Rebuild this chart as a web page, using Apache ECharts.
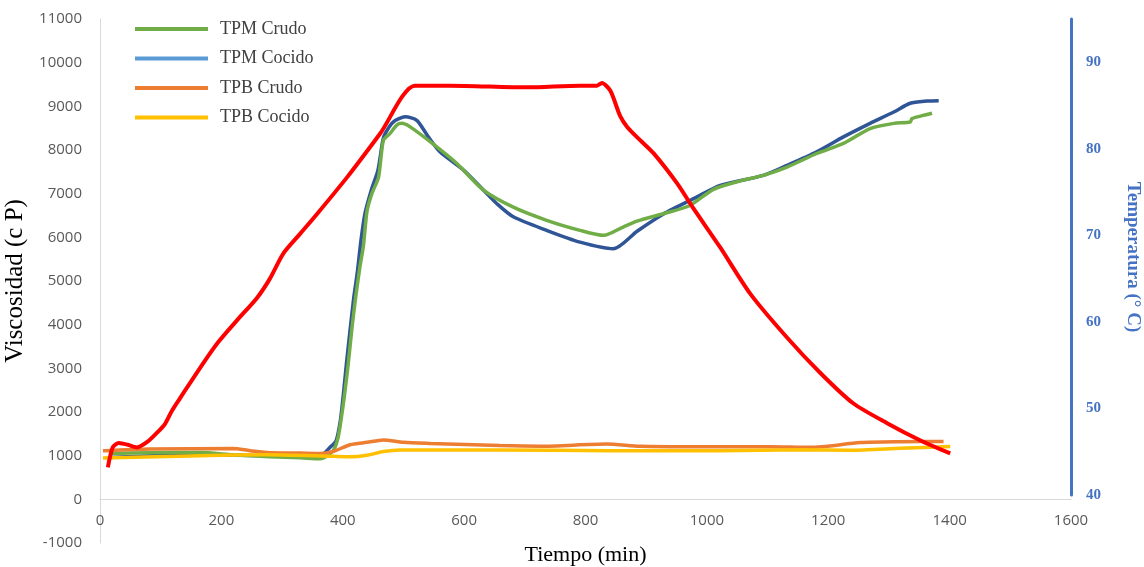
<!DOCTYPE html>
<html>
<head>
<meta charset="utf-8">
<script src="https://cdn.jsdelivr.net/npm/echarts@6/dist/echarts.min.js"></script>
<style>
  html, body { margin: 0; padding: 0; background: #fff; }
  #chart { width: 1144px; height: 567px; }
</style>
</head>
<body>
<div id="chart"></div>
<script>
// Viscosity (cP) against time (min)
const tpmCrudo = [
  [16,1050],[82,1065],[165,1075],[219,1020],[280,975],[330,950],[363,930],[384,1110],
  [392,1400],[397,1800],[403,2400],[409,3100],[415,3900],[421,4600],[428,5300],[434,5800],
  [440,6600],[448,7000],[459,7380],[467,8220],[478,8380],[489,8570],[497,8610],[511,8530],
  [544,8190],[588,7690],[632,7080],[681,6690],[736,6390],[791,6160],[830,6045],[862,6235],
  [885,6370],[928,6540],[972,6730],[1011,7100],[1060,7310],[1093,7420],[1132,7610],[1181,7920],
  [1225,8150],[1269,8490],[1308,8610],[1335,8640],[1338,8720],[1352,8775],[1371,8840]
];
const tpmCocido = [
  [16,960],[165,1020],[280,1000],[363,1000],[379,1190],[389,1340],[396,1800],[401,2400],
  [406,3100],[412,3870],[418,4600],[424,5200],[430,5930],[437,6570],[447,7080],[458,7540],
  [466,8220],[470,8380],[483,8640],[503,8760],[522,8680],[541,8300],[560,7960],[599,7540],
  [632,7080],[654,6770],[681,6470],[736,6160],[791,5890],[846,5740],[885,6140],[928,6530],
  [983,6920],[1022,7190],[1093,7420],[1132,7650],[1181,7960],[1225,8300],[1269,8610],
  [1308,8870],[1335,9070],[1363,9120],[1382,9130]
];
const tpbCrudo = [
  [5,1110],[82,1150],[219,1165],[247,1115],[275,1075],[330,1060],[363,1050],[384,1095],
  [412,1250],[440,1305],[467,1360],[500,1305],[544,1280],[659,1230],[725,1215],[835,1265],
  [890,1215],[989,1205],[1104,1205],[1170,1190],[1253,1300],[1319,1320],[1390,1325]
];
const tpbCocido = [
  [5,945],[165,1000],[275,1020],[384,985],[412,975],[440,1010],[467,1095],[494,1130],
  [659,1130],[841,1115],[1022,1115],[1154,1135],[1236,1125],[1319,1170],[1401,1210]
];
// Temperature (°C) against time (min), right-hand axis
const temperatura = [
  [13,43.2],[21,45.5],[31,46.0],[46,45.8],[61,45.5],[79,46.2],[94,47.2],[107,48.2],
  [119,49.8],[132,51.2],[148,52.9],[165,54.7],[193,57.5],[226,60.2],[259,62.8],[280,65.0],
  [302,67.9],[330,70.2],[358,72.5],[407,76.7],[462,81.8],[519,87.3],[577,87.3],[704,87.1],
  [791,87.3],[819,87.3],[827,87.6],[841,86.7],[857,83.8],[869,82.5],[890,81.0],[912,79.5],
  [951,76.0],[977,73.2],[1022,68.6],[1071,63.3],[1132,58.2],[1187,54.1],[1241,50.6],
  [1297,48.3],[1352,46.3],[1401,44.8]
];

const legendNames = ['TPM Crudo', 'TPM Cocido', 'TPB Crudo', 'TPB Cocido'];
const legendColors = ['#70AD47', '#5B9BD5', '#ED7D31', '#FFC000'];

const serif = 'Liberation Serif';
const plainNumber = v => String(v);
const tickFont = { fontFamily: 'Open Sans', fontSize: 15, color: '#595959', formatter: plainNumber };

// viscosity grid spans -1000 .. 11000; the time axis sits on the zero line
const gridTop = 19;
const gridBottom = 24;
const viscMin = -1000;
const viscMax = 11000;

const chart = echarts.init(document.getElementById('chart'), null, { renderer: 'canvas' });
const plotHeight = chart.getHeight() - gridTop - gridBottom;
// lift the time axis from the grid bottom up to viscosity = 0
const zeroLift = plotHeight * (0 - viscMin) / (viscMax - viscMin);

function lineSeries(name, data, color, width, legendColor) {
  return {
    name: name,
    type: 'line',
    data: data,
    xAxisIndex: 0,
    yAxisIndex: 0,
    smooth: 0.25,
    showSymbol: false,
    symbol: 'none',
    itemStyle: { color: legendColor || color },
    lineStyle: { color: color, width: width },
    emphasis: { disabled: true }
  };
}

chart.setOption({
  animation: false,
  backgroundColor: '#ffffff',
  grid: [
    { left: 100, right: 73, top: gridTop, bottom: gridBottom, containLabel: false, outerBoundsMode: 'none' },
    // temperature plot: 40 .. 95, bottom aligned with viscosity zero
    { left: 100, right: 73, top: gridTop, bottom: 72, containLabel: false, outerBoundsMode: 'none' }
  ],
  legend: {
    orient: 'vertical',
    left: 130,
    top: 14,
    icon: 'rect',
    itemWidth: 73,
    itemHeight: 4,
    itemGap: 9.5,
    data: legendNames.map((n, i) => ({ name: n, itemStyle: { color: legendColors[i] } })),
    textStyle: { fontFamily: serif, fontSize: 18, color: '#404040', lineHeight: 20, padding: [0, 0, 0, 7] },
    selectedMode: false
  },
  xAxis: [
    {
      type: 'value', gridIndex: 0, min: 0, max: 1600, interval: 200,
      position: 'bottom', offset: -zeroLift,
      name: 'Tiempo (min)', nameLocation: 'middle', nameGap: 45,
      nameTextStyle: { fontFamily: serif, fontSize: 22, color: '#000' },
      axisLine: { show: true, onZero: false, lineStyle: { color: '#d9d9d9', width: 1 } },
      axisTick: { show: false },
      splitLine: { show: false },
      axisLabel: Object.assign({ margin: 14 }, tickFont)
    },
    {
      type: 'value', gridIndex: 1, min: 0, max: 1600, show: false
    }
  ],
  yAxis: [
    {
      type: 'value', gridIndex: 0, min: viscMin, max: viscMax, interval: 1000,
      name: 'Viscosidad (c P)', nameLocation: 'middle', nameGap: 64,
      nameTextStyle: { fontFamily: serif, fontSize: 25, color: '#000' },
      axisLine: { show: true, onZero: false, lineStyle: { color: '#d9d9d9', width: 1 } },
      axisTick: { show: false },
      splitLine: { show: false },
      axisLabel: Object.assign({ margin: 18 }, tickFont)
    },
    {
      type: 'value', gridIndex: 1, position: 'right', min: 40, max: 95, interval: 10,
      name: 'Temperatura (° C)', nameLocation: 'middle', nameGap: 52, nameRotate: -90,
      nameTextStyle: { fontFamily: serif, fontSize: 19, fontWeight: 'bold', color: '#4472C4' },
      axisLine: { show: true, onZero: false, lineStyle: { color: '#4472C4', width: 3 } },
      axisTick: { show: false },
      splitLine: { show: false },
      axisLabel: { margin: 15, fontFamily: serif, fontSize: 15, fontWeight: 'bold', color: '#4472C4', showMaxLabel: false }
    }
  ],
  series: [
    lineSeries('TPM Cocido', tpmCocido, '#2F5597', 3.5, '#5B9BD5'),
    lineSeries('TPM Crudo', tpmCrudo, '#70AD47', 3.5),
    lineSeries('TPB Crudo', tpbCrudo, '#ED7D31', 3.5),
    lineSeries('TPB Cocido', tpbCocido, '#FFC000', 3.5),
    {
      name: 'Temperatura',
      type: 'line',
      data: temperatura,
      xAxisIndex: 1,
      yAxisIndex: 1,
      smooth: 0.25,
      showSymbol: false,
      symbol: 'none',
      itemStyle: { color: '#FF0000' },
      lineStyle: { color: '#FF0000', width: 4 },
      emphasis: { disabled: true }
    }
  ]
});
</script>
</body>
</html>
